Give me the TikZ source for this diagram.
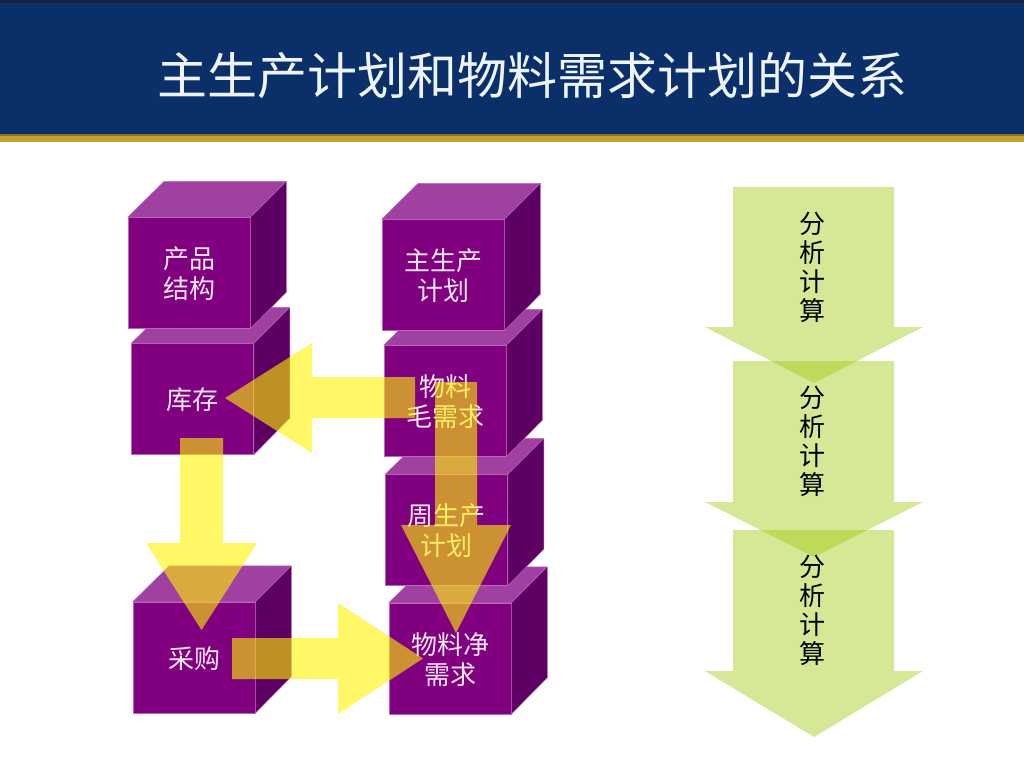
\documentclass[tikz,border=0pt]{standalone}
\usepackage{fontspec}
\newfontfamily\cjk{Noto Sans CJK SC}
\definecolor{navy}{HTML}{0B2F68}
\definecolor{navytop}{HTML}{14213F}
\definecolor{gold}{HTML}{C0A030}
\definecolor{goldDark}{HTML}{8C7420}
\definecolor{cubeF}{HTML}{800080}
\definecolor{cubeTop}{HTML}{A040A0}
\definecolor{cubeSide}{HTML}{5E0063}
\definecolor{cubeEdge}{HTML}{B868B8}
\definecolor{cubeT}{HTML}{F8E8F8}
\definecolor{garrowC}{HTML}{A0CC16}
\definecolor{titleC}{HTML}{EEF4FF}
\newcommand\mkcube[4]{%
  \node[cubefront] (#1) at (#2,#3) {#4};
  \filldraw[cubetop] (#1.north west) -- (#1.north east) -- ++(36,-36) -- ++(-122,0) -- cycle;
  \filldraw[cubeside] (#1.north east) -- ++(36,-36) -- ++(0,111) -- (#1.south east) -- cycle;
}
\newcommand\mkgarrow[3]{%
  \fill[garrow] (733,#1) -- (894,#1) -- (894,#2) -- (923,#2) -- (814,#3) -- (705,#2) -- (733,#2) -- cycle;
}
\begin{document}
\begin{tikzpicture}[x=1pt,y=-1pt,
  cubefront/.style={fill=cubeF, draw=cubeEdge, line width=0.5pt, minimum width=122pt, minimum height=111pt, inner sep=0pt,
    text=cubeT, font=\cjk\fontsize{26}{30}\selectfont, align=center, text depth=-2pt},
  cubetop/.style={fill=cubeTop, draw=cubeEdge, line width=0.5pt, line join=round},
  cubeside/.style={fill=cubeSide, draw=cubeEdge, line width=0.5pt, line join=round},
  yarrow/.style={fill=yellow, fill opacity=0.6},
  garrow/.style={fill=garrowC, fill opacity=0.45},
  gtext/.style={font=\cjk\fontsize{26}{29}\selectfont, align=center, text=black}]
\useasboundingbox (0,0) rectangle (1024,768);
\fill[white] (0,0) rectangle (1024,768);
% title bar
\fill[navy] (0,0) rectangle (1024,135);
\fill[navytop] (0,0) rectangle (1024,3);
\fill[gold] (0,135) rectangle (1024,142);
\fill[goldDark] (0,134) rectangle (1024,136);
\node[font=\cjk\fontsize{50}{50}\selectfont, text=titleC] (title) at (532,76) {主生产计划和物料需求计划的关系};
% cubes (lower ones first)
\mkcube{purchase}{194}{657.5}{采购}
\mkcube{stock}{192.5}{399}{库存}
\mkcube{bom}{189}{273}{产品\\结构}
\mkcube{net}{450}{658.5}{物料净\\需求}
\mkcube{week}{446.5}{530}{周生产\\计划}
\mkcube{gross}{445}{401}{物料\\毛需求}
\mkcube{mps}{443}{275}{主生产\\计划}
% yellow block arrows
\fill[yarrow] (415,377) -- (312,377) -- (312,343) -- (225,398) -- (312,453) -- (312,418) -- (415,418) -- cycle;
\fill[yarrow] (435,382) -- (477,382) -- (477,525) -- (511,525) -- (456,633) -- (401,525) -- (435,525) -- cycle;
\fill[yarrow] (180,438) -- (223,438) -- (223,543) -- (257,543) -- (201.5,630) -- (146,543) -- (180,543) -- cycle;
\fill[yarrow] (232,638) -- (338,638) -- (338,603) -- (423,658.5) -- (338,714) -- (338,679) -- (232,679) -- cycle;
% green arrows
\mkgarrow{187}{327}{383}
\mkgarrow{361}{502}{557}
\mkgarrow{530}{671}{737}
\node[gtext] (g1) at (812,267) {分\\析\\计\\算};
\node[gtext] (g2) at (812,441) {分\\析\\计\\算};
\node[gtext] (g3) at (812,610) {分\\析\\计\\算};
\end{tikzpicture}
\end{document}
